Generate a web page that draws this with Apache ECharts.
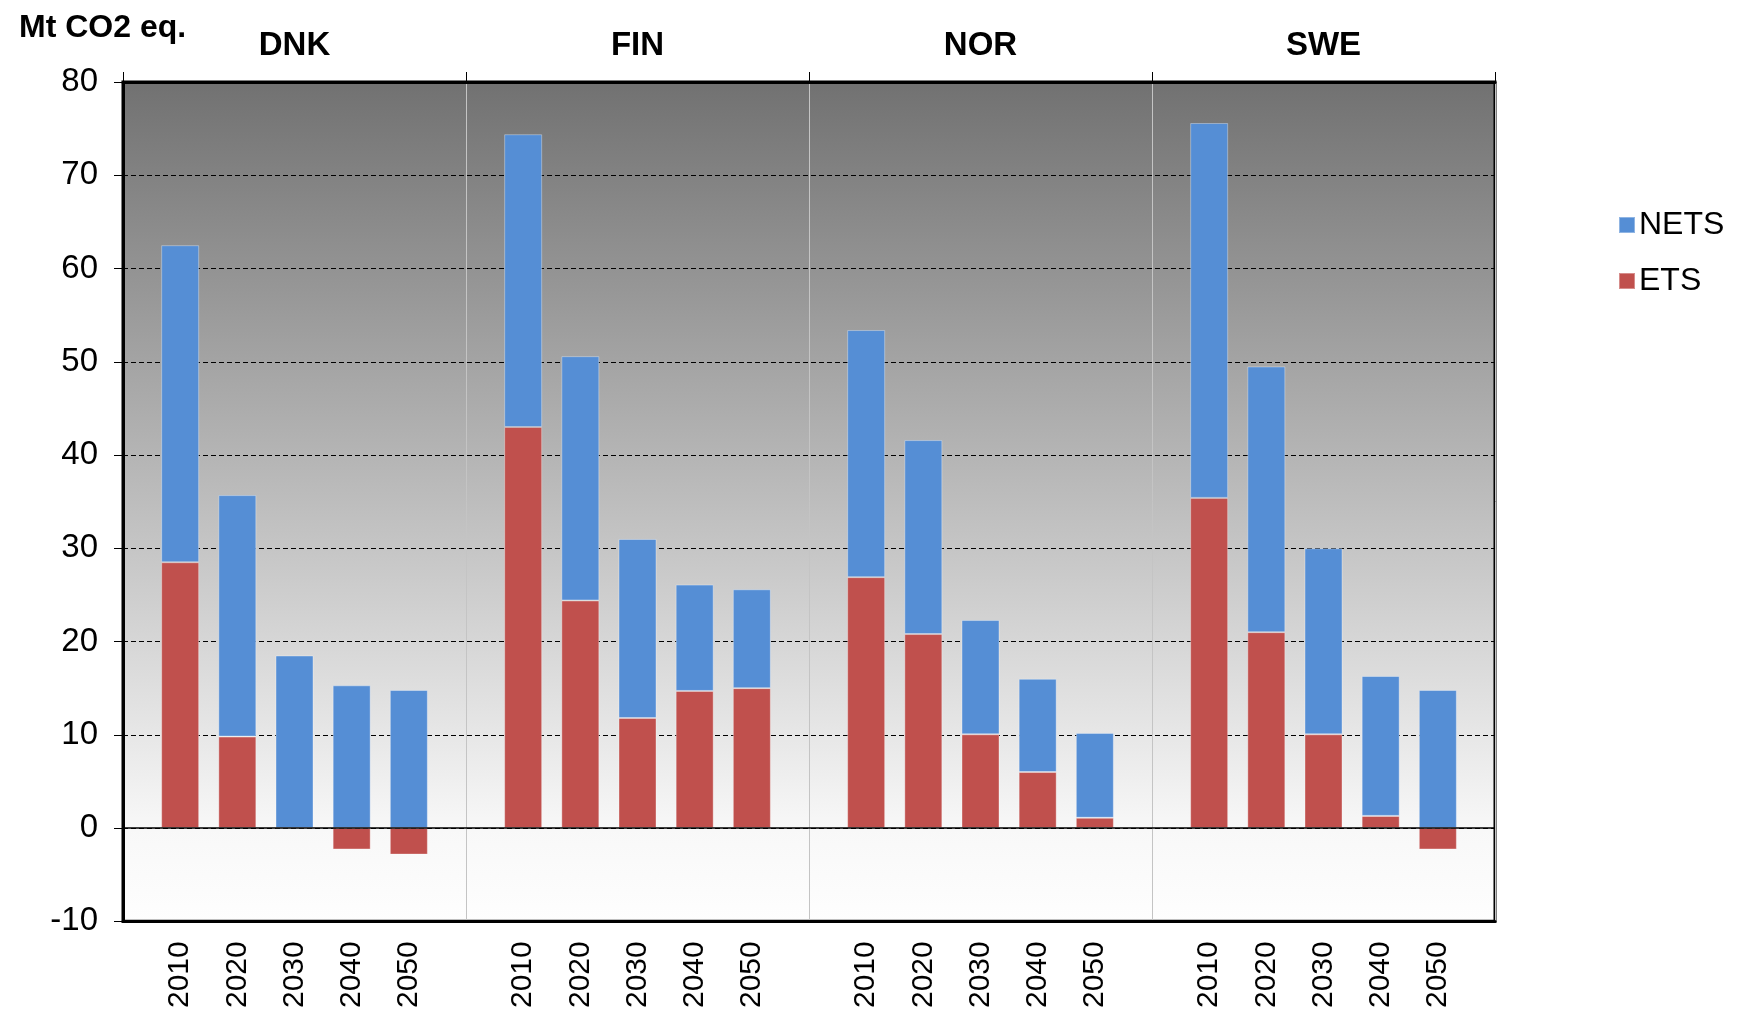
<!DOCTYPE html>
<html>
<head>
<meta charset="utf-8">
<script src="https://cdn.jsdelivr.net/npm/echarts@6/dist/echarts.min.js"></script>
<style>
html,body{margin:0;padding:0;background:#fff;}
#chart{width:1742px;height:1011px;}
</style>
</head>
<body>
<div id="chart"></div>
<script>
// ---- data ----
var countries = ['DNK', 'FIN', 'NOR', 'SWE'];
var years = ['2010', '2020', '2030', '2040', '2050'];
var yTicks = [-10, 0, 10, 20, 30, 40, 50, 60, 70, 80];

var etsDNK = [28.5, 9.8, 0, -2.3, -2.85];
var etsFIN = [43.0, 24.4, 11.8, 14.7, 15.0];
var etsNOR = [26.9, 20.8, 10.05, 6.0, 1.1];
var etsSWE = [35.4, 21.0, 10.05, 1.3, -2.3];

var netsDNK = [34.0, 25.9, 18.5, 15.3, 14.8];
var netsFIN = [31.4, 26.2, 19.2, 11.4, 10.6];
var netsNOR = [26.5, 20.8, 12.25, 10.0, 9.1];
var netsSWE = [40.2, 28.5, 19.95, 15.0, 14.8];

// ---- build slotted category axis: blank separator, 5 years, blank, ... ----
var etsAll = [etsDNK, etsFIN, etsNOR, etsSWE];
var netsAll = [netsDNK, netsFIN, netsNOR, netsSWE];
var xCats = [], etsData = [], netsData = [];
for (var g = 0; g < countries.length; g++) {
  xCats.push(''); etsData.push('-'); netsData.push('-');
  for (var k = 0; k < years.length; k++) {
    xCats.push(years[k]);
    etsData.push(etsAll[g][k]);
    netsData.push(netsAll[g][k]);
  }
}
xCats.push(''); etsData.push('-'); netsData.push('-');

var FONT = 'Liberation Sans, Arial, sans-serif';
var chart = echarts.init(document.getElementById('chart'), null, {renderer: 'canvas'});
chart.setOption({
  animation: false,
  backgroundColor: '#ffffff',
  title: {
    text: 'Mt CO2 eq.',
    left: 14, top: 7,
    textStyle: {fontFamily: FONT, fontSize: 32, fontWeight: 'bold', color: '#000'}
  },
  legend: {
    orient: 'vertical',
    left: 1613, top: 204,
    itemWidth: 16, itemHeight: 16, itemGap: 24,
    icon: 'rect',
    data: ['NETS', 'ETS'],
    textStyle: {fontFamily: FONT, fontSize: 32, color: '#000', padding: [0, 0, 0, -1]}
  },
  grid: {
    left: 123, top: 82, width: 1372, height: 840,
    show: true,
    borderColor: '#000', borderWidth: 3,
    backgroundColor: {
      type: 'linear', x: 0, y: 0, x2: 0, y2: 1,
      colorStops: [
        {offset: 0, color: '#717171'},
        {offset: 0.889, color: '#f8f8f8'},
        {offset: 1, color: '#fefefe'}
      ]
    }
  },
  xAxis: [
    {
      type: 'category',
      data: xCats,
      boundaryGap: false,
      position: 'bottom',
      axisLine: {show: true, onZero: false, lineStyle: {color: '#000', width: 3}},
      axisTick: {show: false},
      axisLabel: {
        interval: 0, rotate: 90, margin: 20,
        fontFamily: FONT, fontSize: 30, color: '#000'
      },
      splitLine: {
        show: true,
        interval: function (idx) { return idx % 6 === 0; },
        lineStyle: {color: '#c4c4c4', width: 1}
      }
    },
    {
      type: 'category',
      data: countries,
      position: 'top',
      boundaryGap: true,
      axisLine: {show: true, onZero: false, lineStyle: {color: '#000', width: 3}},
      axisTick: {show: true, length: 10, lineStyle: {color: '#000', width: 1}},
      axisLabel: {
        margin: 20,
        fontFamily: FONT, fontSize: 33, fontWeight: 'bold', color: '#000'
      },
      splitLine: {show: false}
    }
  ],
  yAxis: {
    type: 'value',
    min: yTicks[0], max: yTicks[yTicks.length - 1], interval: 10,
    axisLine: {show: true, lineStyle: {color: '#000', width: 3}},
    axisTick: {show: true, length: 9, lineStyle: {color: '#000', width: 1}},
    axisLabel: {margin: 25, fontFamily: FONT, fontSize: 33, color: '#000'},
    splitLine: {show: true, lineStyle: {color: '#000', width: 1, type: [5, 3]}}
  },
  series: [
    {
      name: 'ETS', type: 'bar', stack: 'total', xAxisIndex: 0,
      barWidth: 38,
      data: etsData,
      itemStyle: {color: '#C0504D', borderColor: 'rgba(255,255,255,0.35)', borderWidth: 1},
      markLine: {
        silent: true, symbol: 'none', label: {show: false},
        lineStyle: {color: '#000', width: 1.5, type: 'solid'},
        data: [{yAxis: 0}]
      }
    },
    {
      name: 'NETS', type: 'bar', stack: 'total', xAxisIndex: 0,
      barWidth: 38,
      data: netsData,
      itemStyle: {color: '#558ED5', borderColor: 'rgba(255,255,255,0.35)', borderWidth: 1}
    }
  ]
});
</script>
</body>
</html>
